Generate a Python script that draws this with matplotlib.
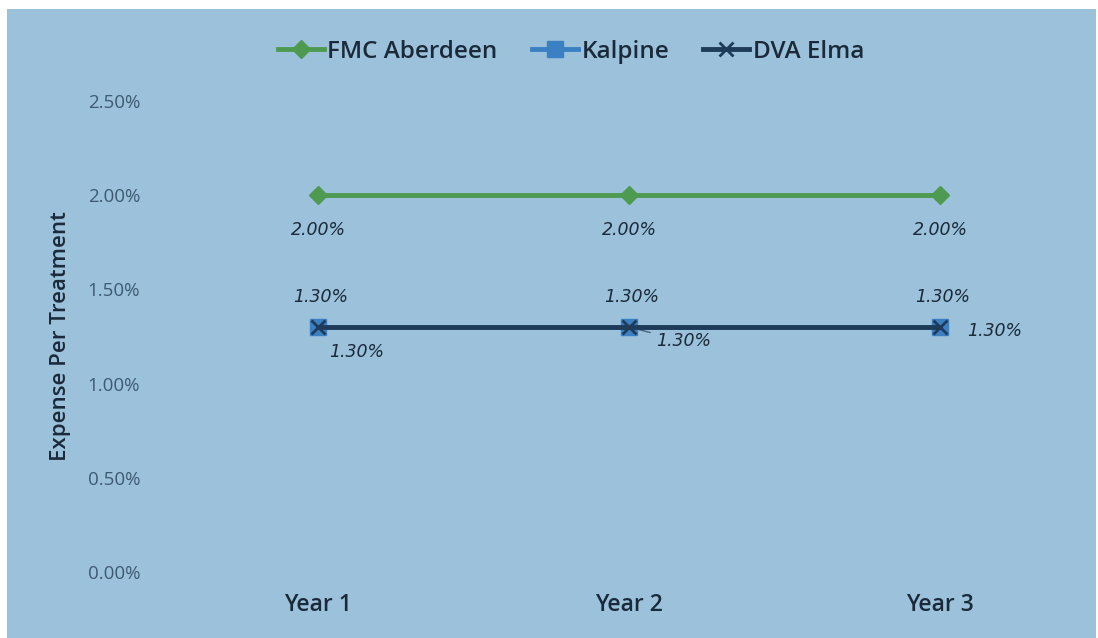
import matplotlib
matplotlib.use("Agg")
import matplotlib.pyplot as plt
from matplotlib.patches import Rectangle
from matplotlib.ticker import FuncFormatter

categories = ["Year 1", "Year 2", "Year 3"]
fmc_aberdeen = [0.020, 0.020, 0.020]
kalpine = [0.013, 0.013, 0.013]
dva_elma = [0.013, 0.013, 0.013]
y_ticks = [0.0, 0.005, 0.010, 0.015, 0.020, 0.025]

BG = "#9cc2db"
TXT = "#1b2a3a"
TICK = "#3e5a72"
FONT = ["Open Sans", "DejaVu Sans"]
plt.rcParams["font.family"] = FONT

W, H = 1098, 638
fig = plt.figure(figsize=(W / 100, H / 100), dpi=100)
fig.patch.set_facecolor("white")
bg = Rectangle((7 / W, 0), (1096 - 7) / W, (638 - 9) / H,
               transform=fig.transFigure, facecolor=BG, edgecolor="none", zorder=-10)
fig.add_artist(bg)

left, right = 162.5 / W, 1095.5 / W
bottom, top = 1 - 572 / H, 1 - 101 / H
ax = fig.add_axes([left, bottom, right - left, top - bottom])
ax.set_facecolor("none")
ax.set_zorder(1)
x = list(range(len(categories)))

ax.plot(x, kalpine, color="#3b80c2", lw=3.5, marker="s", ms=11,
        markerfacecolor="#3b80c2", markeredgecolor="#3b80c2", label="Kalpine", zorder=3)
ax.plot(x, dva_elma, color="#1e3c5a", lw=3.5, marker="x", ms=10, mew=2,
        label="DVA Elma", zorder=4)
ax.plot(x, fmc_aberdeen, color="#4e9a50", lw=3.5, marker="D", ms=9,
        markerfacecolor="#4e9a50", markeredgecolor="#4e9a50", label="FMC Aberdeen", zorder=5)

ax.set_xlim(-0.5, 2.5)
ax.set_ylim(0, 0.025)
ax.set_yticks(y_ticks)
ax.yaxis.set_major_formatter(FuncFormatter(lambda v, p: f"{v*100:.2f}%"))
ax.set_xticks(x)
ax.set_xticklabels(categories, fontsize=16.5, color=TXT, fontweight="semibold")
for s in ax.spines.values():
    s.set_visible(False)
ax.tick_params(axis="y", length=0, pad=16, labelsize=13.5, labelcolor=TICK)
ax.tick_params(axis="x", length=0, pad=15)
ax.set_ylabel("Expense Per Treatment", fontsize=16, color=TXT, labelpad=12,
              fontweight="semibold")

lab_kw = dict(fontsize=12.5, style="italic", color=TXT, ha="center", va="center",
              family="DejaVu Sans")
for i, v in enumerate(fmc_aberdeen):
    ax.annotate(f"{v*100:.2f}%", (i, v), xytext=(0, -25), textcoords="offset points", **lab_kw)
for i, v in enumerate(dva_elma):
    ax.annotate(f"{v*100:.2f}%", (i, v), xytext=(2, 22), textcoords="offset points", **lab_kw)
kal_offsets = [(28, -18), (39, -10), (39, -3)]
for i, v in enumerate(kalpine):
    arrow = None
    if i == 1:
        arrow = dict(arrowstyle="-", color="#4a6478", lw=1, shrinkA=2, shrinkB=4)
    ax.annotate(f"{v*100:.2f}%", (i, v), xytext=kal_offsets[i], textcoords="offset points",
                arrowprops=arrow, **lab_kw)

handles, labels = ax.get_legend_handles_labels()
order = [labels.index(n) for n in ["FMC Aberdeen", "Kalpine", "DVA Elma"]]
leg = fig.legend([handles[k] for k in order], [labels[k] for k in order],
                 loc="center", bbox_to_anchor=(571 / W, 1 - 52 / H), ncol=3,
                 frameon=False, handlelength=1.9, handletextpad=0.15,
                 columnspacing=1.4, prop={"size": 17.5, "weight": "semibold"})
for t in leg.get_texts():
    t.set_color(TXT)

fig.savefig("out.png", dpi=100, facecolor=fig.get_facecolor())
